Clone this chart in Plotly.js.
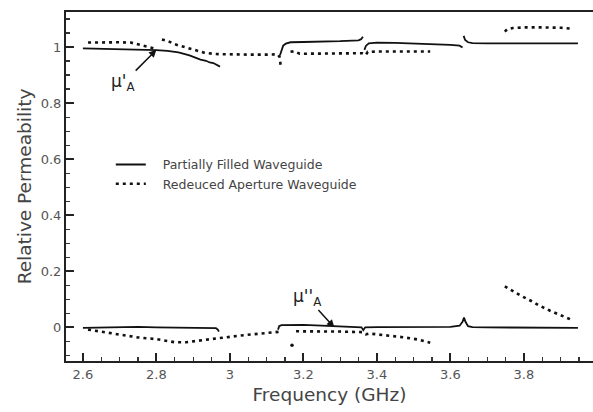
<!DOCTYPE html>
<html>
<head>
<meta charset="utf-8">
<script src="https://cdn.plot.ly/plotly-3.0.1.min.js"></script>
<style>html,body{margin:0;padding:0;background:#fff;}#chart{width:593px;height:412px;}</style>
</head>
<body>
<div id="chart"></div>
<script>
// Partially Filled Waveguide - real part (mu'A)
const pfRealX = [2.6,2.65,2.7,2.75,2.8,2.83,2.86,2.89,2.92,2.935,2.945,2.955,2.965,2.973,null,
  3.136,3.14,3.145,3.152,3.165,3.2,3.25,3.3,3.35,3.357,3.362,null,
  3.366,3.37,3.378,3.4,3.45,3.5,3.55,3.6,3.625,3.633,null,
  3.636,3.64,3.648,3.66,3.7,3.75,3.8,3.85,3.9,3.947];
const pfRealY = [0.995,0.994,0.993,0.991,0.989,0.986,0.981,0.97,0.955,0.951,0.945,0.943,0.937,0.93,null,
  0.970,0.99,1.005,1.012,1.017,1.018,1.019,1.021,1.024,1.028,1.037,null,
  0.99,1.004,1.013,1.016,1.015,1.013,1.011,1.008,1.005,0.998,null,
  1.04,1.025,1.017,1.014,1.013,1.013,1.013,1.013,1.013,1.013];
// Partially Filled Waveguide - imaginary part (mu''A)
const pfImagX = [2.6,2.65,2.7,2.75,2.8,2.85,2.9,2.95,2.962,2.967,2.97,null,
  3.131,3.134,3.14,3.2,3.25,3.3,3.35,3.358,3.363,3.368,3.4,3.45,3.5,3.55,3.6,3.625,3.633,3.637,3.641,3.648,3.66,3.7,3.8,3.9,3.947];
const pfImagY = [-0.002,0.0,0.001,0.002,0.0,-0.001,-0.003,-0.005,-0.003,-0.008,-0.015,null,
  -0.008,0.004,0.008,0.009,0.006,0.004,0.002,0.0,-0.01,0.0,0.001,0.001,0.001,0.001,0.002,0.006,0.02,0.035,0.02,0.004,0.001,0.0,0.0,-0.002,-0.002];
// Reduced Aperture Waveguide - real part
const raRealX = [2.614,2.65,2.7,2.73,2.745,2.765,2.78,2.795,null,
  2.815,2.83,2.85,2.88,2.9,2.93,2.96,3.0,3.05,3.1,3.13,3.135,3.138,null,
  3.165,3.175,3.19,3.25,3.3,3.36,3.37,3.375,3.4,3.45,3.5,3.545,null,
  3.748,3.755,3.77,3.8,3.85,3.9,3.933];
const raRealY = [1.016,1.017,1.017,1.016,1.011,1.006,1.0,0.995,null,
  1.027,1.022,1.01,0.998,0.99,0.98,0.975,0.973,0.973,0.973,0.974,0.965,0.936,null,
  0.983,0.985,0.976,0.977,0.978,0.978,0.972,0.983,0.984,0.984,0.984,0.984,null,
  1.055,1.064,1.068,1.07,1.07,1.069,1.065];
// Reduced Aperture Waveguide - imaginary part
const raImagX = [2.614,2.65,2.7,2.75,2.8,2.85,2.88,2.92,2.97,3.03,3.1,3.14,null,
  3.18,3.25,3.3,3.36,3.37,3.38,3.42,3.47,3.51,3.545,null,
  3.748,3.77,3.79,3.82,3.84,3.87,3.89,3.91,3.933];
const raImagY = [-0.008,-0.016,-0.027,-0.036,-0.042,-0.053,-0.053,-0.046,-0.037,-0.029,-0.02,-0.015,null,
  -0.014,-0.014,-0.015,-0.017,-0.025,-0.022,-0.027,-0.035,-0.043,-0.055,null,
  0.146,0.128,0.114,0.094,0.079,0.06,0.049,0.037,0.025];
// isolated stray points of the dotted series
const raStrayX = [3.169];
const raStrayY = [-0.064];

const seriesNames = ['Partially Filled Waveguide', 'Redeuced Aperture Waveguide'];
const xTickVals = [2.6,2.8,3.0,3.2,3.4,3.6,3.8];
const yTickVals = [0,0.2,0.4,0.6,0.8,1];

const FONT = 'DejaVu Sans, sans-serif';
const PAD = '\u00a0\u00a0\u00a0';
const solid = {color:'#111', width:1.8};
const dotted = {color:'#111', width:2.6, dash:'3px,4px'};

const traces = [
  {x:pfRealX, y:pfRealY, mode:'lines', line:solid, name:PAD + seriesNames[0], legendgroup:'pf', connectgaps:false},
  {x:pfImagX, y:pfImagY, mode:'lines', line:solid, name:seriesNames[0], legendgroup:'pf', showlegend:false, connectgaps:false},
  {x:raRealX, y:raRealY, mode:'lines', line:dotted, name:PAD + seriesNames[1], legendgroup:'ra', connectgaps:false},
  {x:raImagX, y:raImagY, mode:'lines', line:dotted, name:seriesNames[1], legendgroup:'ra', showlegend:false, connectgaps:false},
  {x:raStrayX, y:raStrayY, mode:'markers', marker:{color:'#111', size:3.5}, legendgroup:'ra', showlegend:false}
];

const layout = {
  width:593, height:412,
  margin:{l:66, r:0, t:12, b:51},
  paper_bgcolor:'#fff', plot_bgcolor:'#fff',
  font:{family:FONT, color:'#555', size:13},
  showlegend:true,
  legend:{x:0.085, y:0.605, xanchor:'left', yanchor:'top', bgcolor:'rgba(0,0,0,0)',
    font:{family:FONT, size:12.5, color:'#444'}, tracegroupgap:0, itemwidth:30},
  xaxis:{range:[2.554,3.988], showgrid:false, zeroline:false,
    showline:true, linecolor:'#222', linewidth:2, mirror:true,
    ticks:'inside', ticklen:8, tickwidth:2, tickcolor:'#222',
    tickvals:xTickVals, tickfont:{size:13, color:'#555'},
    minor:{dtick:0.05, tick0:2.6, ticks:'inside', ticklen:4, tickwidth:1.2, tickcolor:'#333'},
    title:{text:'Frequency (GHz)', font:{size:18.5, color:'#444'}, standoff:7}},
  yaxis:{range:[-0.12,1.125], showgrid:false, zeroline:false,
    showline:true, linecolor:'#222', linewidth:2,
    ticks:'inside', ticklen:8, tickwidth:2, tickcolor:'#222',
    tickvals:yTickVals, tickfont:{size:13, color:'#555'},
    minor:{dtick:0.05, tick0:0, ticks:'inside', ticklen:4, tickwidth:1.2, tickcolor:'#333'},
    title:{text:'Relative Permeability', font:{size:18.5, color:'#444'}, standoff:4}},
  annotations:[
    {x:2.8, y:0.99, ax:2.711, ay:0.873, xref:'x', yref:'y', axref:'x', ayref:'y',
     text:"μ'<sub>A</sub>", showarrow:true, arrowhead:2, arrowsize:1, arrowwidth:1.5, arrowcolor:'#111',
     borderpad:0, font:{family:FONT, size:17, color:'#222'}},
    {x:3.284, y:0.0, ax:3.211, ay:0.105, xref:'x', yref:'y', axref:'x', ayref:'y',
     text:"μ''<sub>A</sub>", showarrow:true, arrowhead:2, arrowsize:1, arrowwidth:1.5, arrowcolor:'#111',
     borderpad:0, font:{family:FONT, size:17, color:'#222'}}
  ]
};

Plotly.newPlot('chart', traces, layout, {displayModeBar:false, staticPlot:true});
</script>
</body>
</html>
